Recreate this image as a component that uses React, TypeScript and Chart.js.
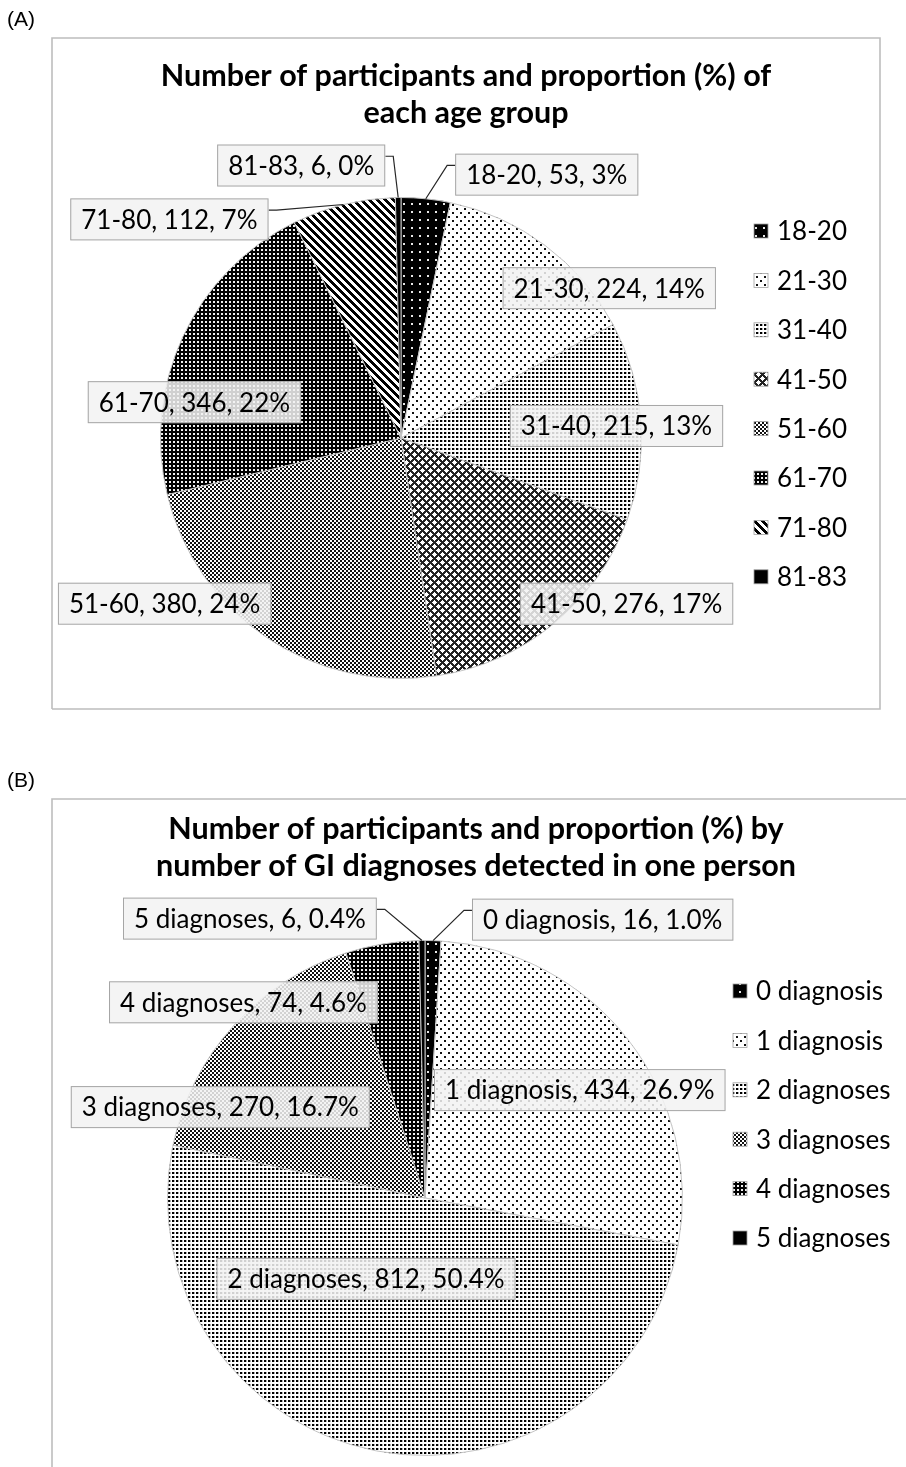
import React, { useEffect, useRef } from 'react';
import { Chart, registerables } from 'chart.js';

Chart.register(...registerables);

// ---------- data ----------
const ageGroups = ['18-20', '21-30', '31-40', '41-50', '51-60', '61-70', '71-80', '81-83'];
const ageCounts = [53, 224, 215, 276, 380, 346, 112, 6];
const agePercents = ['3%', '14%', '13%', '17%', '24%', '22%', '7%', '0%'];

const diagGroups = ['0 diagnosis', '1 diagnosis', '2 diagnoses', '3 diagnoses', '4 diagnoses', '5 diagnoses'];
const diagCounts = [16, 434, 812, 270, 74, 6];
const diagPercents = ['1.0%', '26.9%', '50.4%', '16.7%', '4.6%', '0.4%'];

const titleA = ['Number of participants and proportion (%) of', 'each age group'];
const titleB = ['Number of participants and proportion (%) by', 'number of GI diagnoses detected in one person'];

// ---------- styling / layout ----------
const ageFills = ['dotsOnBlack', 'sparseDots', 'denseDots', 'diamonds', 'checker', 'darkGrid', 'stripes', 'solid'];
const diagFills = ['dotsOnBlack', 'sparseDots', 'denseDots', 'checker', 'darkGrid', 'solid'];

// label centres as fractions of the pie radius, relative to pie centre
const ageLabelPos = [
  [0.606, -1.095], [0.866, -0.623], [0.896, -0.05], [0.938, 0.689],
  [-0.983, 0.689], [-0.859, -0.149], [-0.963, -0.909], [-0.415, -1.133],
];
const ageLeader = [true, false, false, false, false, false, true, true];
const diagLabelPos = [
  [0.69, -1.081], [0.601, -0.419], [-0.229, 0.314], [-0.795, -0.353], [-0.705, -0.76], [-0.68, -1.085],
];
const diagLeader = [true, false, false, false, false, true];

const FONT = 'Lato, "Open Sans", sans-serif';
const LABEL_FONT = '26px ' + FONT;

function buildFill(kind: string): CanvasPattern | string {
  if (kind === 'solid') return '#000000';
  const c = document.createElement('canvas');
  c.width = 8;
  c.height = 8;
  const g = c.getContext('2d')!;
  g.fillStyle = '#ffffff';
  g.fillRect(0, 0, 8, 8);
  const dark = '#111111';
  if (kind === 'dotsOnBlack') {
    g.fillStyle = '#000';
    g.fillRect(0, 0, 8, 8);
    g.fillStyle = '#e8e8e8';
    g.fillRect(3, 3, 2, 2);
  } else if (kind === 'sparseDots') {
    g.fillStyle = dark;
    g.fillRect(0, 0, 2, 2);
    g.fillRect(4, 4, 2, 2);
  } else if (kind === 'denseDots') {
    g.fillStyle = '#000';
    for (let y = 0; y < 8; y += 4) for (let x = 0; x < 8; x += 4) g.fillRect(x, y, 2, 2);
    g.fillStyle = '#b0b0b0';
    for (let y = 0; y < 8; y += 4) for (let x = 0; x < 8; x += 4) g.fillRect(x + 2, y, 1, 2);
  } else if (kind === 'diamonds') {
    g.fillStyle = '#222';
    g.fillRect(0, 0, 8, 8);
    g.fillStyle = '#ffffff';
    const centres = [[2, 2], [6, 6], [-2, 6], [6, -2], [10, 2], [2, 10], [-2, -2], [10, 10]];
    for (let y = 0; y < 8; y++) for (let x = 0; x < 8; x++) {
      for (const [cx, cy] of centres) {
        if (Math.abs(x - cx) + Math.abs(y - cy) <= 2) { g.fillRect(x, y, 1, 1); break; }
      }
    }
  } else if (kind === 'checker') {
    g.fillStyle = dark;
    for (let y = 0; y < 8; y += 2) for (let x = 0; x < 8; x += 2) if (((x + y) / 2) % 2 === 0) g.fillRect(x, y, 2, 2);
  } else if (kind === 'darkGrid') {
    g.fillStyle = '#000';
    g.fillRect(0, 0, 8, 8);
    g.fillStyle = '#f0f0f0';
    for (let y = 0; y < 8; y += 4) for (let x = 0; x < 8; x += 4) g.fillRect(x + 1, y + 1, 2, 2);
  } else if (kind === 'stripes') {
    g.fillStyle = '#000';
    for (let y = 0; y < 8; y++) for (let x = 0; x < 8; x++) if (((x - y + 16) % 8) < 4) g.fillRect(x, y, 1, 1);
  }
  return g.createPattern(c, 'repeat')!;
}

interface PanelOpts {
  id: string;
  panelLabel: string;
  panelLabelY: number;
  frame: { x: number; y: number; x2: number; y2: number; right: boolean; bottom: boolean };
  title: string[];
  titleX: number;
  titleY: number;
  groups: string[];
  counts: number[];
  percents: string[];
  fills: (CanvasPattern | string)[];
  labelPos: number[][];
  leader: boolean[];
  legendX: number;
  legendY: number;
}

function decorPlugin(o: PanelOpts) {
  return {
    id: 'decor' + o.id,
    afterDraw(chart: any) {
      const ctx: CanvasRenderingContext2D = chart.ctx;
      ctx.save();
      // panel label
      ctx.fillStyle = '#000';
      ctx.font = '21px "Liberation Sans", Arial, sans-serif';
      ctx.textBaseline = 'middle';
      ctx.textAlign = 'left';
      ctx.fillText(o.panelLabel, 7, o.panelLabelY);
      // frame
      ctx.strokeStyle = '#bdbdbd';
      ctx.lineWidth = 1.6;
      ctx.beginPath();
      const f = o.frame;
      ctx.moveTo(f.x, f.y2);
      ctx.lineTo(f.x, f.y);
      ctx.lineTo(f.x2, f.y);
      if (f.right) ctx.lineTo(f.x2, f.y2);
      if (f.bottom) ctx.lineTo(f.x, f.y2);
      ctx.stroke();
      // title
      ctx.fillStyle = '#000';
      ctx.font = 'bold 30.5px ' + FONT;
      ctx.textAlign = 'center';
      o.title.forEach((t, i) => ctx.fillText(t, o.titleX, o.titleY + i * 37));
      // legend
      ctx.font = LABEL_FONT;
      ctx.textAlign = 'left';
      o.groups.forEach((g, i) => {
        const y = o.legendY + i * 49.4;
        ctx.fillStyle = o.fills[i] as any;
        ctx.fillRect(o.legendX, y - 7, 14, 14);
        ctx.strokeStyle = '#a0a0a0';
        ctx.lineWidth = 0.8;
        ctx.strokeRect(o.legendX, y - 7, 14, 14);
        ctx.fillStyle = '#000';
        ctx.fillText(g, o.legendX + 23, y + 1);
      });
      // data labels
      const meta = chart.getDatasetMeta(0);
      meta.data.forEach((arc: any, i: number) => {
        const R = arc.outerRadius;
        const cx = arc.x + o.labelPos[i][0] * R;
        const cy = arc.y + o.labelPos[i][1] * R;
        const text = `${o.groups[i]}, ${o.counts[i]}, ${o.percents[i]}`;
        ctx.font = LABEL_FONT;
        const w = ctx.measureText(text).width + 22;
        const h = 42;
        const bx = cx - w / 2;
        const by = cy - h / 2;
        if (o.leader[i]) {
          const mid = (arc.startAngle + arc.endAngle) / 2;
          const tx = arc.x + Math.cos(mid) * R;
          const ty = arc.y + Math.sin(mid) * R;
          const toRight = tx > cx;
          const sx = toRight ? bx + w : bx;
          const sy = by + h * 0.28;
          ctx.strokeStyle = '#262626';
          ctx.lineWidth = 1.2;
          ctx.beginPath();
          ctx.moveTo(sx, sy);
          ctx.lineTo(sx + (toRight ? 8 : -8), sy);
          ctx.lineTo(tx, ty);
          ctx.stroke();
        }
        ctx.fillStyle = 'rgba(242,242,242,0.86)';
        ctx.fillRect(bx, by, w, h);
        ctx.strokeStyle = '#a6a6a6';
        ctx.lineWidth = 1;
        ctx.strokeRect(bx + 0.5, by + 0.5, w - 1, h - 1);
        ctx.fillStyle = '#000';
        ctx.textAlign = 'center';
        ctx.textBaseline = 'middle';
        ctx.fillText(text, cx, cy + 1);
      });
      ctx.restore();
    },
  };
}

function makeConfig(o: PanelOpts, padding: { left: number; right: number; top: number; bottom: number }): any {
  return {
    type: 'pie',
    data: {
      labels: o.groups,
      datasets: [
        {
          data: o.counts,
          backgroundColor: o.fills,
          borderColor: '#c4c4c4',
          borderWidth: 1,
        },
      ],
    },
    options: {
      responsive: false,
      maintainAspectRatio: false,
      animation: false,
      layout: { padding },
      plugins: { legend: { display: false }, tooltip: { enabled: false }, title: { display: false } },
    },
    plugins: [decorPlugin(o)],
  };
}

function PiePanel({ build, width, height }: { build: () => any; width: number; height: number }) {
  const ref = useRef<HTMLCanvasElement>(null);
  useEffect(() => {
    const chart = new Chart(ref.current!, build());
    return () => chart.destroy();
  }, []);
  return <canvas ref={ref} width={width} height={height} style={{ display: 'block', width, height }} />;
}

export default function App() {
  useEffect(() => {
    document.body.style.margin = '0';
    document.body.style.background = '#fff';
  }, []);

  const buildA = () =>
    makeConfig(
      {
        id: 'A',
        panelLabel: '(A)',
        panelLabelY: 20,
        frame: { x: 52, y: 38, x2: 880, y2: 709, right: true, bottom: true },
        title: titleA,
        titleX: 466,
        titleY: 76,
        groups: ageGroups,
        counts: ageCounts,
        percents: agePercents,
        fills: ageFills.map(buildFill),
        labelPos: ageLabelPos,
        leader: ageLeader,
        legendX: 754,
        legendY: 231,
      },
      { left: 160, top: 197, right: 264, bottom: 61 }
    );

  const buildB = () =>
    makeConfig(
      {
        id: 'B',
        panelLabel: '(B)',
        panelLabelY: 41,
        frame: { x: 52, y: 59, x2: 906, y2: 727, right: false, bottom: false },
        title: titleB,
        titleX: 476,
        titleY: 89,
        groups: diagGroups,
        counts: diagCounts,
        percents: diagPercents,
        fills: diagFills.map(buildFill),
        labelPos: diagLabelPos,
        leader: diagLeader,
        legendX: 733,
        legendY: 251,
      },
      { left: 167, top: 200, right: 223, bottom: 11 }
    );

  return (
    <div style={{ position: 'absolute', left: 0, top: 0, width: 906, background: '#fff' }}>
      <PiePanel build={buildA} width={906} height={740} />
      <PiePanel build={buildB} width={906} height={727} />
    </div>
  );
}
